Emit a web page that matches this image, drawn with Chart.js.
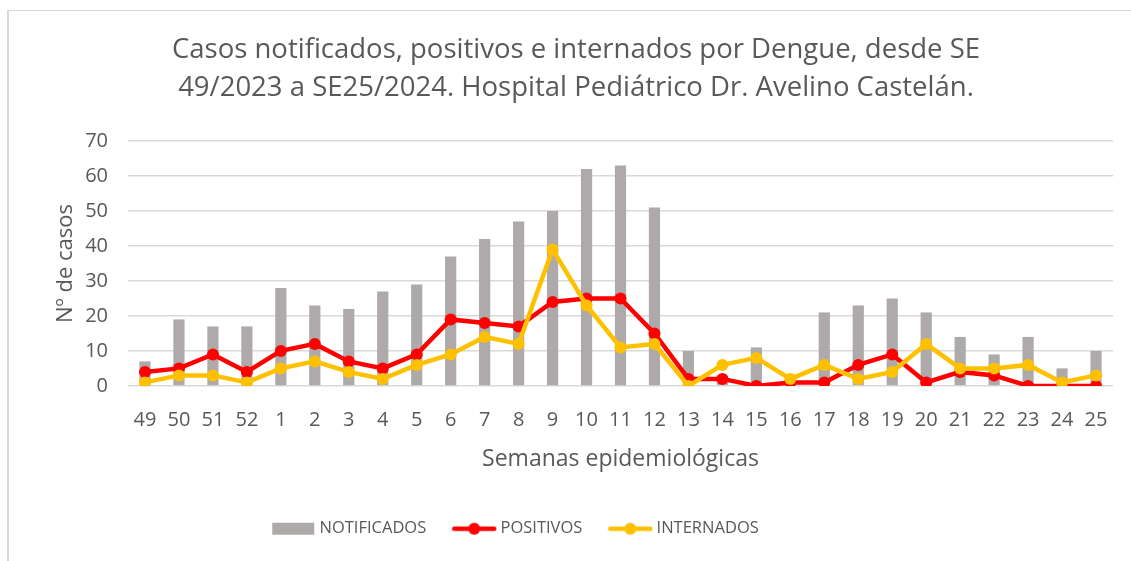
<!DOCTYPE html>
<html>
<head>
<meta charset="utf-8">
<script src="https://cdn.jsdelivr.net/npm/chart.js@4.4.1/dist/chart.umd.min.js"></script>
<style>
  html, body { margin: 0; padding: 0; background: #fff; overflow: hidden; }
  #wrap { position: relative; width: 1131px; height: 561px; }
  #frame { position: absolute; left: 7px; top: 10px; width: 1200px; height: 600px;
           border-left: 2px solid #d9d9d9; border-top: 1px solid #d9d9d9; pointer-events: none; }
</style>
</head>
<body>
<div id="wrap">
  <canvas id="chart" width="1131" height="561"></canvas>
  <div id="frame"></div>
</div>
<script>
// datos (semanas epidemiológicas SE49/2023 - SE25/2024)
const semanas = ['49', '50', '51', '52', '1', '2', '3', '4', '5', '6', '7', '8', '9', '10', '11',
  '12', '13', '14', '15', '16', '17', '18', '19', '20', '21', '22', '23', '24', '25'];
const notificados = [7, 19, 17, 17, 28, 23, 22, 27, 29, 37, 42, 47, 50, 62, 63,
  51, 10, 3, 11, 3, 21, 23, 25, 21, 14, 9, 14, 5, 10];
const positivos = [4, 5, 9, 4, 10, 12, 7, 5, 9, 19, 18, 17, 24, 25, 25,
  15, 2, 2, 0, 1, 1, 6, 9, 1, 4, 3, 0, 0, 0];
const internados = [1, 3, 3, 1, 5, 7, 4, 2, 6, 9, 14, 12, 39, 23, 11,
  12, 0, 6, 8, 2, 6, 2, 4, 12, 5, 5, 6, 1, 3];

const FUENTE = '"Open Sans", Lato, sans-serif';
const GRIS_TEXTO = '#595959';

// iconos de la leyenda (barra y línea con marcador)
function icono(color, esLinea) {
  const c = document.createElement('canvas');
  c.width = 46;
  c.height = 14;
  const g = c.getContext('2d');
  g.fillStyle = color;
  if (!esLinea) {
    g.fillRect(2, 1, 42, 12);
  } else {
    g.strokeStyle = color;
    g.lineWidth = 4.5;
    g.lineCap = 'round';
    g.beginPath();
    g.moveTo(3, 7);
    g.lineTo(43, 7);
    g.stroke();
    g.beginPath();
    g.arc(23, 7, 6, 0, Math.PI * 2);
    g.fill();
  }
  return c;
}
const iconos = [icono('#AEAAAA', false), icono('#FF0000', true), icono('#FFC000', true)];

// la leyenda del original no está centrada con el título
const moverLeyenda = {
  id: 'moverLeyenda',
  afterLayout(chart) {
    chart.legend.left -= 59;
    chart.legend.right -= 59;
  }
};

const ctx = document.getElementById('chart').getContext('2d');
new Chart(ctx, {
  data: {
    labels: semanas,
    datasets: [
      {
        type: 'bar',
        label: 'NOTIFICADOS',
        data: notificados,
        backgroundColor: '#AEAAAA',
        barPercentage: 0.33,
        categoryPercentage: 1,
        order: 3
      },
      {
        type: 'line',
        label: 'POSITIVOS',
        data: positivos,
        borderColor: '#FF0000',
        backgroundColor: '#FF0000',
        borderWidth: 4.5,
        pointRadius: 6,
        pointBorderWidth: 0,
        tension: 0,
        order: 2
      },
      {
        type: 'line',
        label: 'INTERNADOS',
        data: internados,
        borderColor: '#FFC000',
        backgroundColor: '#FFC000',
        borderWidth: 4.5,
        pointRadius: 6,
        pointBorderWidth: 0,
        tension: 0,
        order: 1
      }
    ]
  },
  plugins: [moverLeyenda],
  options: {
    responsive: false,
    animation: false,
    layout: { padding: { left: 39, right: 18, top: 0, bottom: 14 } },
    plugins: {
      title: {
        display: true,
        text: ['Casos notificados, positivos e internados por Dengue, desde SE',
          '49/2023 a SE25/2024. Hospital Pediátrico Dr. Avelino Castelán.'],
        color: GRIS_TEXTO,
        font: { family: FUENTE, size: 27.5, weight: 'normal', lineHeight: '38px' },
        padding: { top: 31, bottom: 34 }
      },
      legend: {
        position: 'bottom',
        labels: {
          usePointStyle: true,
          pointStyleWidth: 36,
          boxHeight: 12,
          color: GRIS_TEXTO,
          font: { family: FUENTE, size: 16.5 },
          padding: 30,
          sort: (a, b) => a.datasetIndex - b.datasetIndex,
          generateLabels(chart) {
            const items = Chart.defaults.plugins.legend.labels.generateLabels(chart);
            items.forEach(it => { it.pointStyle = iconos[it.datasetIndex]; });
            return items;
          }
        }
      },
      tooltip: { enabled: false }
    },
    scales: {
      x: {
        grid: { display: false },
        border: { display: false },
        ticks: { color: GRIS_TEXTO, font: { family: FUENTE, size: 20 }, padding: 14, maxRotation: 0 },
        title: {
          display: true,
          text: 'Semanas epidemiológicas',
          color: GRIS_TEXTO,
          font: { family: FUENTE, size: 23 },
          padding: { top: 0, bottom: 17 }
        }
      },
      y: {
        min: 0,
        max: 70,
        ticks: { stepSize: 10, color: GRIS_TEXTO, font: { family: FUENTE, size: 20 }, padding: 20 },
        grid: { color: '#D9D9D9', lineWidth: 1.5, drawTicks: false },
        border: { display: false },
        title: {
          display: true,
          text: 'Nº de casos',
          color: GRIS_TEXTO,
          font: { family: FUENTE, size: 22 },
          padding: { top: 14, bottom: 0 }
        },
        afterFit(scale) { scale.width = 89; }
      }
    }
  }
});
</script>
</body>
</html>
